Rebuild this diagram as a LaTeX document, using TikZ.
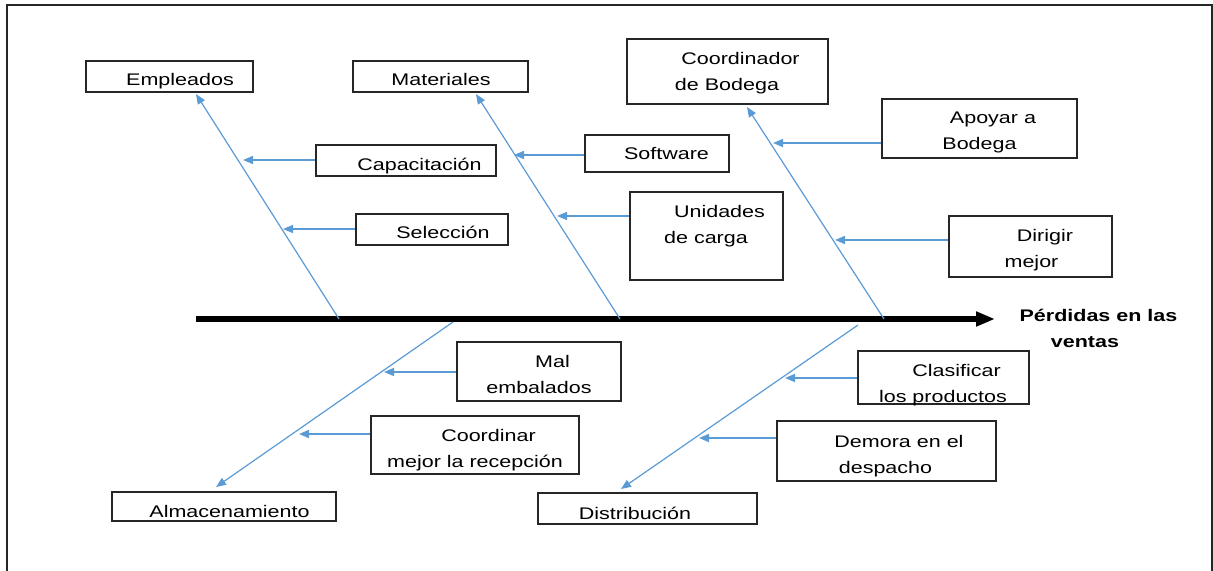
\documentclass[tikz,border=0pt]{standalone}
\usepackage{fontspec}
\setmainfont{Liberation Sans}[FakeStretch=1.28]
\usetikzlibrary{arrows.meta}
\definecolor{bonecol}{HTML}{5B9BD5}
\newcommand{\ind}{\hspace*{27bp}}

\begin{document}
\begin{tikzpicture}[x=1bp,y=-1bp,
    box/.style 2 args={draw=black!85,line width=1.1bp,inner sep=0pt,minimum width=#1bp,minimum height=#2bp},
    txt/.style={anchor=base,align=center,inner sep=0pt,font=\fontsize{16.8bp}{26bp}\selectfont},
    bone/.style={draw=bonecol,line width=1.2bp,-{Triangle[length=10bp,width=8bp]}},
    branch/.style={draw=bonecol,line width=1.5bp,-{Triangle[length=10bp,width=8bp]}}]
    \useasboundingbox (0,0) rectangle (1213,571);
    %% frame
    \draw[line width=2bp,black!85] (6.5,571) -- (6.5,5) -- (1211.5,5) -- (1211.5,571);
    %% spine
    \coordinate (tail) at (196,319);
    \coordinate (head) at (995,319);
    \draw[line width=5.5bp,-{Triangle[length=19bp,width=14bp]}] (tail) -- (head);
    \node[txt,font=\fontsize{16.8bp}{26bp}\selectfont\bfseries] (effT) at (1085,348) {\ind P\'erdidas en las\\ventas};
    %% cause boxes
    \node[box={167}{31}] (emp) at (169.5,76.5) {};
    \node[box={175}{31}] (mat) at (440.5,76.5) {};
    \node[box={201}{65}] (coo) at (727.5,71.5) {};
    \node[box={224}{29}] (alm) at (224,506.5) {};
    \node[box={219}{31}] (dis) at (647.5,508.5) {};
    \node[txt] (empT) at (180,86) {Empleados};
    \node[txt] (matT) at (441,86) {Materiales};
    \node[txt] (cooT) at (727,91) {\ind Coordinador\\de Bodega};
    \node[txt] (almT) at (229.5,517.5) {Almacenamiento};
    \node[txt] (disT) at (635,519) {Distribuci\'on};
    %% sub-cause boxes
    \node[box={180}{31}] (cap) at (406,160.5) {};
    \node[box={152}{31}] (sel) at (432,229.5) {};
    \node[box={144}{37}] (sof) at (657,153.5) {};
    \node[box={153}{88}] (uni) at (706.5,236) {};
    \node[box={195}{59}] (apo) at (979.5,128.5) {};
    \node[box={163}{61}] (dir) at (1030.5,246.5) {};
    \node[box={164}{59}] (mal) at (539,371.5) {};
    \node[box={208}{58}] (rec) at (475,445) {};
    \node[box={171}{53}] (cla) at (943.5,377.5) {};
    \node[box={219}{60}] (dem) at (886.5,451) {};
    \node[txt] (capT) at (419.5,170.5) {Capacitaci\'on};
    \node[txt] (selT) at (443,239) {Selecci\'on};
    \node[txt] (sofT) at (666.5,160) {Software};
    \node[txt] (uniT) at (706,243.5) {\ind Unidades\\de carga};
    \node[txt] (apoT) at (979.5,150) {\ind Apoyar a\\Bodega};
    \node[txt] (dirT) at (1031.5,268) {\ind Dirigir\\mejor};
    \node[txt] (malT) at (539,393) {\ind Mal\\embalados};
    \node[txt] (recT) at (475,467.5) {\ind Coordinar\\mejor la recepci\'on};
    \node[txt] (claT) at (943,402.5) {\ind Clasificar\\los productos};
    \node[txt] (demT) at (885.5,473) {\ind Demora en el\\despacho};
    %% bones
    \coordinate (s1) at (339,319);
    \coordinate (s2) at (620,319);
    \coordinate (s3) at (884,319);
    \coordinate (s4) at (453,322);
    \coordinate (s5) at (858,325);
    \coordinate (t1) at (196,94);
    \coordinate (t2) at (476,94);
    \coordinate (t3) at (747,107);
    \coordinate (t4) at (216,487);
    \coordinate (t5) at (621,489);
    \draw[bone] (s1) -- (t1);
    \draw[bone] (s2) -- (t2);
    \draw[bone] (s3) -- (t3);
    \draw[bone] (s4) -- (t4);
    \draw[bone] (s5) -- (t5);
    %% branches
    \coordinate (c1) at (243,160);
    \coordinate (c2) at (283,229);
    \coordinate (c3) at (514,155);
    \coordinate (c4) at (557,216);
    \coordinate (c5) at (773,143);
    \coordinate (c6) at (835,240);
    \coordinate (c7) at (384,372);
    \coordinate (c8) at (299,434);
    \coordinate (c9) at (785,378);
    \coordinate (c10) at (699,438);
    \draw[branch] (cap.west |- c1) -- (c1);
    \draw[branch] (sel.west |- c2) -- (c2);
    \draw[branch] (sof.west |- c3) -- (c3);
    \draw[branch] (uni.west |- c4) -- (c4);
    \draw[branch] (apo.west |- c5) -- (c5);
    \draw[branch] (dir.west |- c6) -- (c6);
    \draw[branch] (mal.west |- c7) -- (c7);
    \draw[branch] (rec.west |- c8) -- (c8);
    \draw[branch] (cla.west |- c9) -- (c9);
    \draw[branch] (dem.west |- c10) -- (c10);
\end{tikzpicture}
\end{document}
